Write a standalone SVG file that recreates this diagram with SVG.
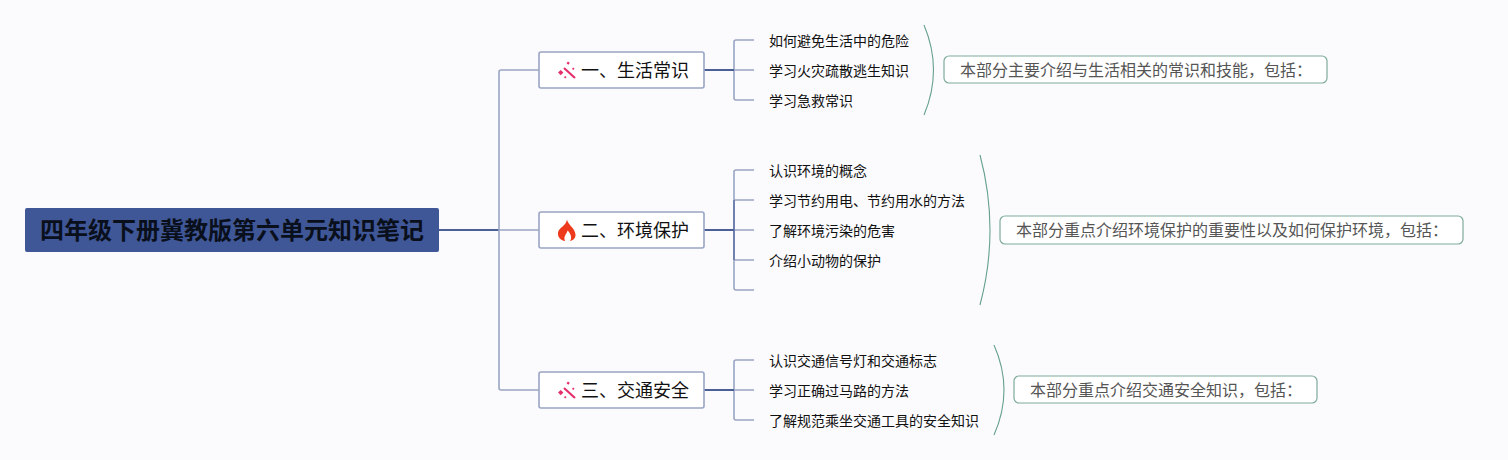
<svg xmlns="http://www.w3.org/2000/svg" width="1508" height="460" viewBox="0 0 1508 460">
<style>
text{font-family:"Liberation Sans","Noto Sans CJK SC",sans-serif}
.root{font-size:24px;font-weight:700;fill:#0a0f1c}
.main{font-size:18px;fill:#111}
.sub{font-size:14px;fill:#111}
.note{font-size:16px;fill:#555}
.mb{fill:#fff;stroke:#9aa5c4;stroke-width:1.6}
.nb{fill:#fff;stroke:#7fab9c;stroke-width:1.2}
.l1{fill:none;stroke:#9aa5c4;stroke-width:1.6}
.l2{fill:none;stroke:#4a5f95;stroke-width:2}
.l3{fill:none;stroke:#6a7cab;stroke-width:1.8}
.br{fill:none;stroke:#66a08e;stroke-width:1.1}
</style>
<defs>
<g id="wand"><path d="M-3-3L8 7" stroke="#e4306c" stroke-width="2.2" fill="none"/><path d="M-9 1.500l2.800-2.600 2.600 2.600-2.600 2.800zM1-9.500l1.800 1.500-1.500 1.800-1.800-1.500zM6-3.500l1.500 1-1 1.500-1.500-1zM-2 5l1.500 1-1 1.500-1.500-1z" fill="#e4306c"/></g>
</defs>
<rect width="1508" height="460" fill="#fbfbfd"/>
<g id="connectors">
<path class="l2" d="M439 230H499"/>
<path class="l1" d="M539 70H501Q499 70 499 72V388Q499 390 501 390H539M499 230H539"/>
<path class="l1" d="M754 40H736Q734 40 734 42V98Q734 100 736 100H754M734 70H754"/>
<path class="l1" d="M754 170H736Q734 170 734 172V288Q734 290 736 290H754M734 200H754M734 230H754M734 260H754"/>
<path class="l1" d="M754 360H736Q734 360 734 362V418Q734 420 736 420H754M734 390H754"/>
<path class="l3" d="M734 200V260"/>
<path class="l2" d="M704 70H734M704 230H734M704 390H734"/>
<path class="br" d="M924 25Q943 70 924 115"/>
<path class="br" d="M980 155Q1000 230 980 305"/>
<path class="br" d="M994 345Q1014 390 994 435"/>
</g>
<g id="root"><rect x="25" y="208" width="414" height="44" rx="2" fill="#3f5797"/><text class="root" x="232" y="239" text-anchor="middle">四年级下册冀教版第六单元知识笔记</text></g>
<g id="n1"><rect class="mb" x="539" y="52" width="165" height="36" rx="2"/><use href="#wand" x="567" y="71"/><text class="main" x="581" y="77">一、生活常识</text></g>
<g id="n2"><rect class="mb" x="539" y="212" width="165" height="36" rx="2"/><path d="M567 219.500C568 225 575 228 575.500 234.500C575.800 238 573 240.500 570 241C572.500 238 570.500 233 567.500 230.500C567 234 563 236 565 241C560.500 240.500 557.500 237 558 232.500C558.500 228 566 226 567 219.500Z" fill="#ee3a1c"/><text class="main" x="581" y="237">二、环境保护</text></g>
<g id="n3"><rect class="mb" x="539" y="372" width="165" height="36" rx="2"/><use href="#wand" x="567" y="391"/><text class="main" x="581" y="397">三、交通安全</text></g>
<g id="s1"><text class="sub" x="769" y="46">如何避免生活中的危险</text></g>
<g id="s2"><text class="sub" x="769" y="76">学习火灾疏散逃生知识</text></g>
<g id="s3"><text class="sub" x="769" y="106">学习急救常识</text></g>
<g id="s4"><text class="sub" x="769" y="176">认识环境的概念</text></g>
<g id="s5"><text class="sub" x="769" y="206">学习节约用电、节约用水的方法</text></g>
<g id="s6"><text class="sub" x="769" y="236">了解环境污染的危害</text></g>
<g id="s7"><text class="sub" x="769" y="266">介绍小动物的保护</text></g>
<g id="s8"><text class="sub" x="769" y="366">认识交通信号灯和交通标志</text></g>
<g id="s9"><text class="sub" x="769" y="396">学习正确过马路的方法</text></g>
<g id="s10"><text class="sub" x="769" y="426">了解规范乘坐交通工具的安全知识</text></g>
<g id="note1"><rect class="nb" x="944" y="56" width="383" height="27" rx="5"/><text class="note" x="960" y="76">本部分主要介绍与生活相关的常识和技能，包括：</text></g>
<g id="note2"><rect class="nb" x="1000" y="216" width="463" height="28" rx="5"/><text class="note" x="1016" y="236">本部分重点介绍环境保护的重要性以及如何保护环境，包括：</text></g>
<g id="note3"><rect class="nb" x="1014" y="376" width="303" height="27" rx="5"/><text class="note" x="1030" y="396">本部分重点介绍交通安全知识，包括：</text></g>
</svg>
